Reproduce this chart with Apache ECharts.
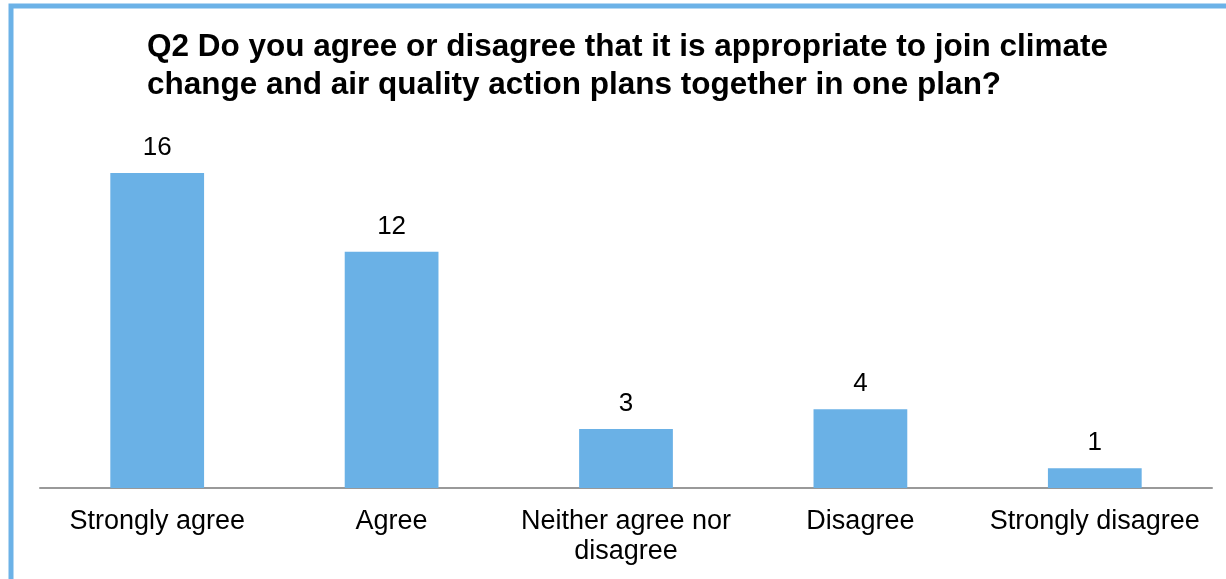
<!DOCTYPE html>
<html>
<head>
<meta charset="utf-8">
<script src="https://cdn.jsdelivr.net/npm/echarts@6/dist/echarts.min.js"></script>
<style>
  html, body { margin: 0; padding: 0; background: #fff; overflow: hidden; }
  #chart { width: 1226px; height: 579px; }
</style>
</head>
<body>
<div id="chart"></div>
<script>
// categories and answer counts
const categories = ['Strongly agree', 'Agree', 'Neither agree nor\ndisagree', 'Disagree', 'Strongly disagree'];
const counts = [16, 12, 3, 4, 1];

const chart = echarts.init(document.getElementById('chart'));
chart.setOption({
  animation: false,
  graphic: [
    {
      type: 'rect',
      shape: { x: 11, y: 6, width: 1400, height: 800 },
      style: { fill: 'none', stroke: '#6cb2e7', lineWidth: 5 }
    },
    {
      type: 'text',
      left: 147,
      top: 28,
      style: {
        text: 'Q2 Do you agree or disagree that it is appropriate to join climate\nchange and air quality action plans together in one plan?',
        font: 'bold 31.5px "Liberation Sans", Arial, sans-serif',
        fill: '#000',
        lineHeight: 38
      }
    }
  ],
  grid: { left: 40, right: 14, top: 173, bottom: 91 },
  xAxis: {
    type: 'category',
    data: categories,
    axisLine: { lineStyle: { color: '#999', width: 2 } },
    axisTick: { show: false },
    axisLabel: {
      interval: 0,
      color: '#000',
      fontSize: 27,
      fontFamily: '"Liberation Sans", Arial, sans-serif',
      lineHeight: 30,
      margin: 19
    }
  },
  yAxis: {
    type: 'value',
    min: 0,
    max: 16,
    show: false
  },
  series: [{
    type: 'bar',
    data: counts,
    barWidth: '40%',
    itemStyle: { color: '#6ab1e6' },
    label: {
      show: true,
      position: 'top',
      distance: 12,
      color: '#000',
      fontSize: 26,
      fontFamily: '"Liberation Sans", Arial, sans-serif'
    }
  }]
});
</script>
</body>
</html>
